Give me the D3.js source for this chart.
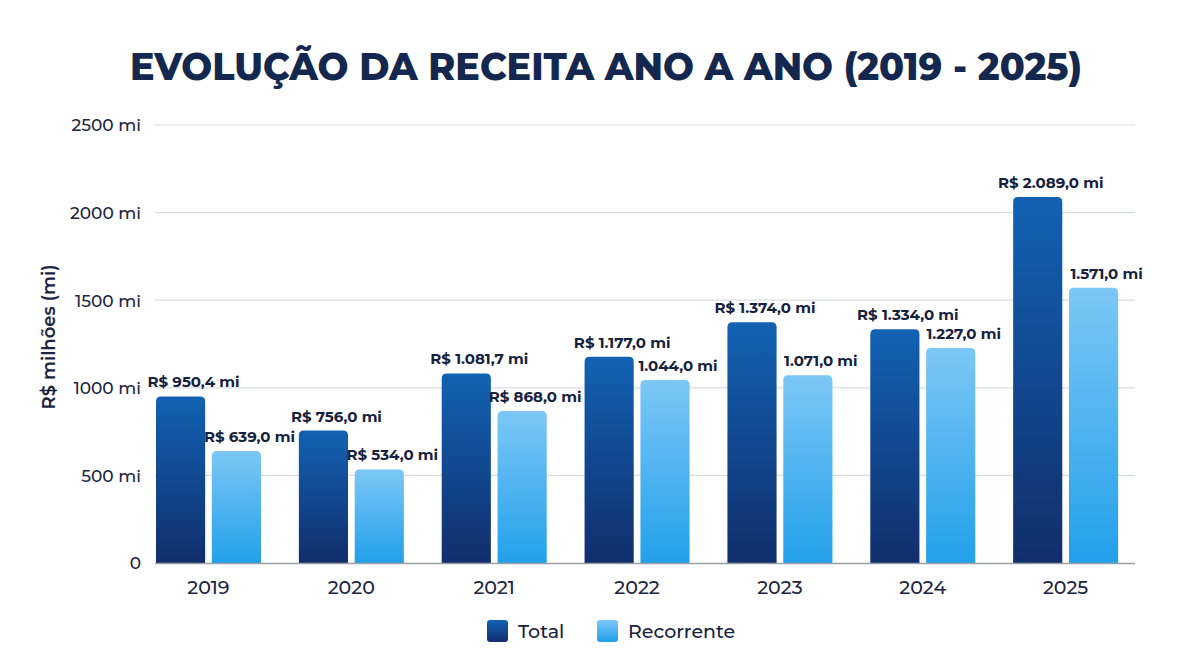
<!DOCTYPE html>
<html><head><meta charset="utf-8">
<script src="https://cdn.jsdelivr.net/npm/d3@7"></script>
<style>
html,body{margin:0;padding:0;background:#fff;}
svg{display:block;font-family:"Montserrat","Open Sans","Lato",sans-serif;}
</style></head>
<body>
<svg id="c" width="1200" height="670"></svg>
<script>
const years = ["2019","2020","2021","2022","2023","2024","2025"];
const totalValues = [950.4, 756.0, 1081.7, 1177.0, 1374.0, 1334.0, 2089.0];
const recorrenteValues = [639.0, 534.0, 868.0, 1044.0, 1071.0, 1227.0, 1571.0];
const totalLabels = ["R$ 950,4 mi","R$ 756,0 mi","R$ 1.081,7 mi","R$ 1.177,0 mi","R$ 1.374,0 mi","R$ 1.334,0 mi","R$ 2.089,0 mi"];
const recorrenteLabels = ["R$ 639,0 mi","R$ 534,0 mi","R$ 868,0 mi","1.044,0 mi","1.071,0 mi","1.227,0 mi","1.571,0 mi"];
const yTicks = [0, 500, 1000, 1500, 2000, 2500];
const seriesNames = ["Total","Recorrente"];
const titleText = "EVOLUÇÃO DA RECEITA ANO A ANO (2019 - 2025)";
const yAxisTitle = "R$ milhões (mi)";

const svg = d3.select("#c");
const defs = svg.append("defs");
function grad(id, top, bottom){
  const g = defs.append("linearGradient").attr("id", id).attr("x1",0).attr("y1",0).attr("x2",0).attr("y2",1);
  g.append("stop").attr("offset","0%").attr("stop-color",top);
  g.append("stop").attr("offset","100%").attr("stop-color",bottom);
}
grad("gTotal", "#1262b3", "#112e6c");
grad("gRec", "#7cc7f6", "#22a0ea");

const x0 = d3.scaleBand().domain(years).range([137, 1137]).paddingInner(0).paddingOuter(0);
const x1 = d3.scaleBand().domain(seriesNames).range([19, 124]).paddingInner(0.12);
const y = d3.scaleLinear().domain([0, 2500]).range([563, 125]);

// title
svg.append("text").attr("x", 606).attr("y", 80).attr("text-anchor","middle")
  .attr("font-size", 38).attr("font-weight", 800).attr("fill", "#14274e")
  .attr("textLength", 952).attr("lengthAdjust","spacingAndGlyphs")
  .text(titleText);

// grid
svg.append("g").selectAll("line").data(yTicks.filter(d=>d>0)).join("line")
  .attr("x1", 155).attr("x2", 1135).attr("y1", d=>y(d)).attr("y2", d=>y(d))
  .attr("stroke", "#d9dde3").attr("stroke-width", 1.2);

// y axis
const yAxis = d3.axisLeft(y).tickValues(yTicks).tickSize(0).tickPadding(0)
  .tickFormat(d => d === 0 ? "0" : d + " mi");
const ya = svg.append("g").attr("transform","translate(141,0)").call(yAxis);
ya.select(".domain").remove();
ya.selectAll("text").attr("font-size", 17).attr("font-weight", 500).attr("fill","#1b2440")
  .attr("font-family", '"Montserrat","Open Sans",sans-serif').attr("dy","0.35em");

svg.append("text").attr("transform","translate(55,337) rotate(-90)").attr("text-anchor","middle")
  .attr("font-size", 18).attr("font-weight", 600).attr("fill","#1b2440").text(yAxisTitle);

// bars
function topRounded(xp, yp, w, h, r){
  r = Math.min(r, h, w/2);
  return `M${xp},${yp+h}V${yp+r}Q${xp},${yp} ${xp+r},${yp}H${xp+w-r}Q${xp+w},${yp} ${xp+w},${yp+r}V${yp+h}Z`;
}
const groups = svg.append("g").selectAll("g").data(years).join("g")
  .attr("transform", d => `translate(${x0(d)},0)`);

const series = [
  {name:"Total", values: totalValues, labels: totalLabels, fill:"url(#gTotal)"},
  {name:"Recorrente", values: recorrenteValues, labels: recorrenteLabels, fill:"url(#gRec)"}
];
series.forEach(s => {
  groups.append("path")
    .attr("d", (d,i) => topRounded(x1(s.name), y(s.values[i]), x1.bandwidth(), y(0)-y(s.values[i]), 5))
    .attr("fill", s.fill);
  groups.append("text")
    .attr("x", (d,i) => x1(s.name) + x1.bandwidth()/2 + 13)
    .attr("y", (d,i) => y(s.values[i]) - 9)
    .attr("text-anchor","middle").attr("font-size", 15).attr("font-weight", 700).attr("fill","#16213f")
    .text((d,i) => s.labels[i]);
});

// baseline
svg.append("line").attr("x1",155).attr("x2",1135).attr("y1",y(0)+0.5).attr("y2",y(0)+0.5)
  .attr("stroke","#9aa0a8").attr("stroke-width",1.5);

// x axis
const xAxis = d3.axisBottom(x0).tickSize(0).tickPadding(0);
const xa = svg.append("g").attr("transform",`translate(0,${y(0)})`).call(xAxis);
xa.select(".domain").remove();
xa.selectAll("text").attr("font-size",19).attr("font-weight",500).attr("fill","#1b2440")
  .attr("font-family",'"Montserrat","Open Sans",sans-serif').attr("y", 31).attr("dy", 0);

// legend
const legend = svg.append("g");
const legendItems = [
  {name:"Total", fill:"url(#gTotal)", x:487},
  {name:"Recorrente", fill:"url(#gRec)", x:597}
];
legendItems.forEach(it => {
  legend.append("rect").attr("x", it.x).attr("y", 620).attr("width", 21).attr("height", 22).attr("rx", 3).attr("fill", it.fill);
  legend.append("text").attr("x", it.x + 31).attr("y", 638).attr("font-size", 19).attr("font-weight", 500)
    .attr("fill","#16213f").text(it.name);
});
</script>
</body></html>
